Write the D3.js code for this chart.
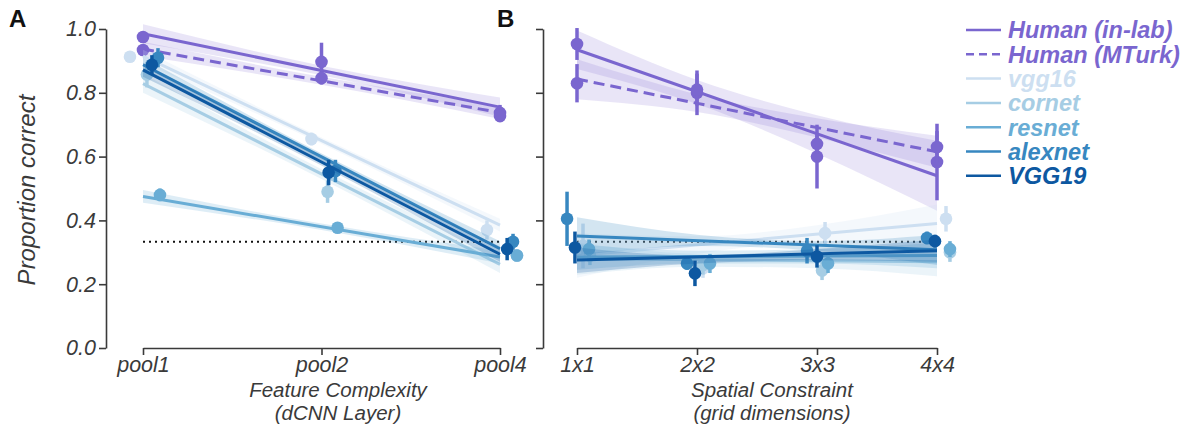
<!DOCTYPE html>
<html>
<head>
<meta charset="utf-8">
<script src="https://cdn.jsdelivr.net/npm/d3@7"></script>
<style>
  body { margin: 0; background: #fff; }
  text { font-family: "Liberation Sans", Arial, Helvetica, sans-serif; }
</style>
</head>
<body>
<script>
// categories and labels
const layers = ['pool1', 'pool2', 'pool4'];
const grids = ['1x1', '2x2', '3x3', '4x4'];
const yTicks = [0, 0.2, 0.4, 0.6, 0.8, 1.0];
const names = ['Human (in-lab)', 'Human (MTurk)', 'vgg16', 'cornet', 'resnet', 'alexnet', 'VGG19'];
const chance = 0.333;

// Panel A (rows follow names, columns follow layers)
const meanA = [
    [0.975, 0.897, 0.737],
    [0.934, 0.846, 0.727],
    [0.913, 0.655, 0.370],
    [0.857, 0.490, 0.290],
    [0.480, 0.377, 0.290],
    [0.910, 0.555, 0.333],
    [0.888, 0.550, 0.310]
];
const errA = [
    [0.012, 0.060, 0.025],
    [0.010, 0.020, 0.012],
    [0.010, 0.020, 0.030],
    [0.040, 0.035, 0.020],
    [0.020, 0.010, 0.015],
    [0.030, 0.035, 0.025],
    [0.030, 0.040, 0.035]
];
// horizontal jitter of the points, in steps
const jitterA = [
    [0, 0, 0],
    [0, 0, 0],
    [-0.073, -0.056, -0.073],
    [0.022, 0.034, 0.095],
    [0.095, 0.090, 0.095],
    [0.084, 0.078, 0.073],
    [0.050, 0.040, 0.040]
];
// fitted line at pool1 and pool4
const fitA = [
    [0.985, 0.755],
    [0.937, 0.738],
    [0.915, 0.385],
    [0.829, 0.262],
    [0.475, 0.285],
    [0.888, 0.311],
    [0.872, 0.294]
];
const bandLoA = [
    [0.955, 0.855, 0.725],
    [0.915, 0.825, 0.718],
    [0.895, 0.640, 0.365],
    [0.800, 0.530, 0.235],
    [0.455, 0.370, 0.265],
    [0.865, 0.588, 0.290],
    [0.850, 0.572, 0.270]
];
const bandHiA = [
    [1.015, 0.885, 0.785],
    [0.960, 0.850, 0.758],
    [0.935, 0.660, 0.405],
    [0.860, 0.560, 0.290],
    [0.495, 0.390, 0.305],
    [0.910, 0.610, 0.335],
    [0.895, 0.595, 0.318]
];

// Panel B (columns follow grids)
const meanB = [
    [0.953, 0.800, 0.600, 0.583],
    [0.830, 0.810, 0.640, 0.630],
    [0.320, 0.250, 0.360, 0.405],
    [0.290, 0.260, 0.243, 0.300],
    [0.310, 0.265, 0.265, 0.310],
    [0.405, 0.265, 0.305, 0.345],
    [0.315, 0.234, 0.287, 0.335]
];
const errB = [
    [0.050, 0.070, 0.100, 0.120],
    [0.060, 0.050, 0.030, 0.050],
    [0.070, 0.030, 0.035, 0.040],
    [0.030, 0.030, 0.030, 0.030],
    [0.030, 0.030, 0.030, 0.025],
    [0.085, 0.020, 0.040, 0.020],
    [0.050, 0.040, 0.035, 0.020]
];
const jitterB = [
    [0, 0, 0, 0],
    [0, 0, 0, 0],
    [0.050, 0.050, 0.067, 0.075],
    [0.108, 0.050, 0.042, 0.108],
    [0.100, 0.108, 0.092, 0.108],
    [-0.083, -0.083, -0.083, -0.083],
    [-0.017, -0.017, 0, -0.017]
];
const fitB = [
    [0.935, 0.540],
    [0.843, 0.615],
    [0.290, 0.390],
    [0.280, 0.270],
    [0.285, 0.290],
    [0.351, 0.308],
    [0.276, 0.305]
];
const bandLoB = [
    [0.875, 0.765, 0.610, 0.430],
    [0.780, 0.740, 0.660, 0.565],
    [0.220, 0.295, 0.330, 0.330],
    [0.230, 0.255, 0.250, 0.225],
    [0.245, 0.265, 0.265, 0.250],
    [0.290, 0.320, 0.305, 0.260],
    [0.235, 0.265, 0.275, 0.270]
];
const bandHiB = [
    [0.995, 0.840, 0.730, 0.650],
    [0.905, 0.795, 0.720, 0.665],
    [0.360, 0.350, 0.385, 0.450],
    [0.330, 0.295, 0.290, 0.315],
    [0.325, 0.305, 0.310, 0.330],
    [0.410, 0.355, 0.335, 0.355],
    [0.315, 0.290, 0.310, 0.340]
];

const colors = ['#7a66cf', '#7a66cf', '#cddff1', '#a6cde4', '#69add5', '#3787c0', '#0d58a1'];
const dashed = [false, true, false, false, false, false, false];
const ink = '#3a3a3a';

const svg = d3.select('body')
    .append('svg')
    .attr('width', 1199)
    .attr('height', 425);

const y = d3.scaleLinear().domain([0, 1]).range([348, 29]);
const xA = d3.scalePoint().domain(layers).range([143, 500]);
const xB = d3.scalePoint().domain(grids).range([577, 937]);

function drawAxes(x, axisX, showLabels) {
    const yAxis = svg.append('g')
        .attr('transform', `translate(${axisX},0)`)
        .call(d3.axisLeft(y)
            .tickValues(yTicks)
            .tickFormat(showLabels ? d3.format('.1f') : '')
            .tickSize(7)
            .tickSizeOuter(0));

    const xAxis = svg.append('g')
        .attr('transform', 'translate(0,348)')
        .call(d3.axisBottom(x).tickSize(7).tickSizeOuter(0).tickPadding(2));

    [yAxis, xAxis].forEach(g => {
        g.selectAll('path, line').attr('stroke', ink).attr('stroke-width', 1.6);
        g.selectAll('text')
            .attr('fill', ink)
            .attr('font-size', 21.5)
            .attr('font-style', 'italic');
    });
    yAxis.selectAll('text').attr('x', -10);
}

function drawPanel(x, cats, mean, err, jitter, fit, bandLo, bandHi) {
    const step = x.step();
    const band = d3.area()
        .x(d => x(d.c))
        .y0(d => y(d.lo))
        .y1(d => y(d.hi))
        .curve(d3.curveMonotoneX);

    // chance level
    svg.append('line')
        .attr('x1', x(cats[0]))
        .attr('x2', x(cats[cats.length - 1]))
        .attr('y1', y(chance))
        .attr('y2', y(chance))
        .attr('stroke', '#111')
        .attr('stroke-width', 2)
        .attr('stroke-dasharray', '2,4');

    names.forEach((n, s) => {
        const g = svg.append('g');
        const c = colors[s];

        g.append('path')
            .datum(cats.map((cat, i) => ({c: cat, lo: bandLo[s][i], hi: bandHi[s][i]})))
            .attr('d', band)
            .attr('fill', c)
            .attr('opacity', s < 2 ? 0.17 : 0.22);

        g.append('line')
            .attr('x1', x(cats[0]))
            .attr('x2', x(cats[cats.length - 1]))
            .attr('y1', y(fit[s][0]))
            .attr('y2', y(fit[s][1]))
            .attr('stroke', c)
            .attr('stroke-width', 3)
            .attr('stroke-dasharray', dashed[s] ? '11,6' : null);

        const pts = cats.map((cat, i) => ({
            px: x(cat) + jitter[s][i] * step,
            v: mean[s][i],
            e: err[s][i]
        }));

        g.selectAll('line.err')
            .data(pts)
            .enter()
            .append('line')
            .attr('class', 'err')
            .attr('x1', d => d.px)
            .attr('x2', d => d.px)
            .attr('y1', d => y(d.v - d.e))
            .attr('y2', d => y(d.v + d.e))
            .attr('stroke', c)
            .attr('stroke-width', 3.5);

        g.selectAll('circle')
            .data(pts)
            .enter()
            .append('circle')
            .attr('cx', d => d.px)
            .attr('cy', d => y(d.v))
            .attr('r', 6.3)
            .attr('fill', c);
    });
}

drawPanel(xA, layers, meanA, errA, jitterA, fitA, bandLoA, bandHiA);
drawPanel(xB, grids, meanB, errB, jitterB, fitB, bandLoB, bandHiB);
drawAxes(xA, 106, true);
drawAxes(xB, 543, false);

// panel letters
svg.append('text').text('A').attr('x', 9).attr('y', 27)
    .attr('font-size', 24).attr('font-weight', 'bold').attr('fill', '#111');
svg.append('text').text('B').attr('x', 497).attr('y', 27)
    .attr('font-size', 24).attr('font-weight', 'bold').attr('fill', '#111');

// axis titles
svg.append('text')
    .attr('transform', 'translate(35,190) rotate(-90)')
    .attr('text-anchor', 'middle')
    .attr('font-size', 24)
    .attr('font-style', 'italic')
    .attr('fill', ink)
    .text('Proportion correct');

[['Feature Complexity', '(dCNN Layer)', 338], ['Spatial Constraint', '(grid dimensions)', 772]]
    .forEach(t => {
        svg.append('text').text(t[0]).attr('x', t[2]).attr('y', 396.5)
            .attr('text-anchor', 'middle').attr('font-size', 20.5)
            .attr('font-style', 'italic').attr('fill', ink);
        svg.append('text').text(t[1]).attr('x', t[2]).attr('y', 419.5)
            .attr('text-anchor', 'middle').attr('font-size', 20.5)
            .attr('font-style', 'italic').attr('fill', ink);
    });

// legend
const legend = svg.append('g').attr('transform', 'translate(966,30)');
names.forEach((n, s) => {
    const row = legend.append('g').attr('transform', `translate(0,${s * 24.3})`);
    row.append('line')
        .attr('x1', 0).attr('x2', 35)
        .attr('stroke', colors[s])
        .attr('stroke-width', 2.5)
        .attr('stroke-dasharray', dashed[s] ? '8,5' : null);
    row.append('text')
        .text(n)
        .attr('x', 42)
        .attr('dy', '0.36em')
        .attr('font-size', 23.5)
        .attr('font-weight', 'bold')
        .attr('font-style', 'italic')
        .attr('fill', colors[s]);
});
</script>
</body>
</html>
